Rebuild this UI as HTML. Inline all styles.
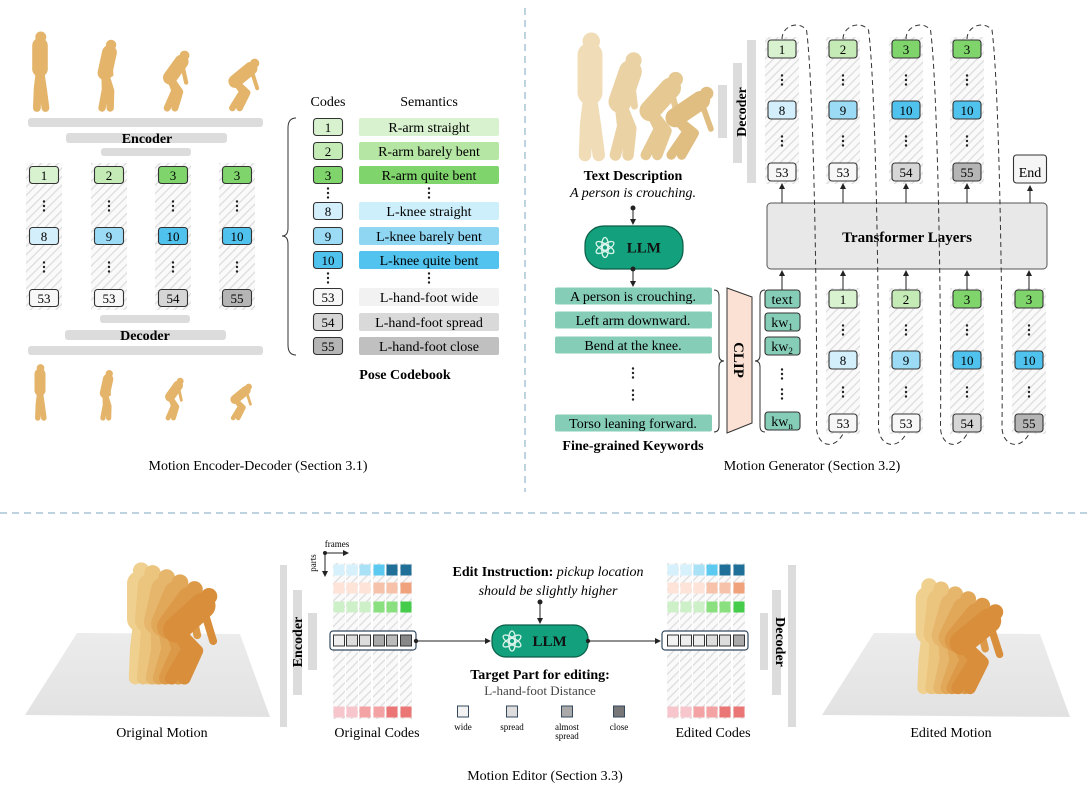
<!DOCTYPE html>
<html><head><meta charset="utf-8">
<style>
html,body{margin:0;padding:0;background:#fff;}
svg{display:block;font-family:"Liberation Serif",serif;}
</style></head>
<body>
<svg id="fig" width="1092" height="801" viewBox="0 0 1092 801" xmlns="http://www.w3.org/2000/svg">
<defs>
<pattern id="hatch" width="6" height="6" patternUnits="userSpaceOnUse" patternTransform="rotate(45)">
<rect width="6" height="6" fill="#fafafa"/><line x1="0" y1="0" x2="0" y2="6" stroke="#dcdcdc" stroke-width="2.5"/>
</pattern>
<linearGradient id="floorg" x1="0" y1="0" x2="0" y2="1"><stop offset="0" stop-color="#ececec"/><stop offset="1" stop-color="#e2e2e2"/></linearGradient>
<marker id="arr" markerWidth="6" markerHeight="6" refX="5" refY="3" orient="auto"><path d="M0,0 L6,3 L0,6 z" fill="#222"/></marker>
</defs>

<line x1="525" y1="8" x2="525" y2="492" stroke="#a9c4d6" stroke-width="1.5" stroke-dasharray="7,5"/>
<line x1="0" y1="513" x2="1092" y2="513" stroke="#a9c4d6" stroke-width="1.5" stroke-dasharray="7,5"/>

<g>
<rect x="28" y="118" width="235" height="9" rx="3" fill="#dcdcdc"/>
<rect x="66" y="133" width="161" height="10" rx="3" fill="#dcdcdc"/>
<rect x="101" y="148" width="90" height="8" rx="3" fill="#dcdcdc"/>
<text x="147" y="143" font-size="14" font-weight="bold" text-anchor="middle">Encoder</text>
</g>
<g>
<rect x="100" y="315" width="90" height="8" rx="3" fill="#dcdcdc"/>
<rect x="65" y="330" width="161" height="10" rx="3" fill="#dcdcdc"/>
<rect x="28" y="346" width="235" height="9" rx="3" fill="#dcdcdc"/>
<text x="145" y="340" font-size="14" font-weight="bold" text-anchor="middle">Decoder</text>
</g>
<path d="M296,118 Q288,118 288,128 L288,228 Q288,236 282,236 Q288,236 288,244 L288,345 Q288,355 296,355" fill="none" stroke="#333" stroke-width="1"/>
<text x="328" y="106" font-size="14" text-anchor="middle">Codes</text>
<text x="429" y="106" font-size="14" text-anchor="middle">Semantics</text>
<text x="405" y="379" font-size="14" font-weight="bold" text-anchor="middle">Pose Codebook</text>
<text x="258" y="470" font-size="14" text-anchor="middle">Motion Encoder-Decoder (Section 3.1)</text>

<text x="633" y="180" font-size="14" font-weight="bold" text-anchor="middle">Text Description</text>
<text x="633" y="197" font-size="14" font-style="italic" text-anchor="middle">A person is crouching.</text>
<g>
<rect x="718" y="85" width="9" height="53" fill="#dcdcdc"/>
<rect x="733" y="63" width="9" height="100" fill="#dcdcdc"/>
<rect x="747" y="40" width="9" height="143" fill="#dcdcdc"/>
<text transform="translate(746,112) rotate(-90)" font-size="14" font-weight="bold" text-anchor="middle">Decoder</text>
</g>
<g>
<rect x="767" y="203" width="280" height="66" rx="4" fill="#e8e8e8" stroke="#555" stroke-width="1"/>
<text x="907" y="242" font-size="15" font-weight="bold" text-anchor="middle">Transformer Layers</text>
</g>
<text x="633" y="450" font-size="14" font-weight="bold" text-anchor="middle">Fine-grained Keywords</text>
<path d="M714,290 Q719,290 719,296 L719,355 Q719,361 724,361 Q719,361 719,367 L719,426 Q719,432 714,432" fill="none" stroke="#333" stroke-width="1"/>
<g>
<polygon points="727,288 752,297 752,423 727,433" fill="#fbe1d4" stroke="#333" stroke-width="1"/>
<text transform="translate(734,360) rotate(90)" font-size="15" font-weight="bold" text-anchor="middle">CLIP</text>
</g>
<path d="M765,290 Q760,290 760,296 L760,355 Q760,361 755,361 Q760,361 760,367 L760,426 Q760,432 765,432" fill="none" stroke="#333" stroke-width="1"/>
<text x="812" y="470" font-size="14" text-anchor="middle">Motion Generator (Section 3.2)</text>

<text x="545" y="780" font-size="14" text-anchor="middle">Motion Editor (Section 3.3)</text>
<polygon points="25,715 77,633 240,634 270,717" fill="url(#floorg)"/>
<polygon points="822,715 874,633 1040,634 1070,717" fill="url(#floorg)"/>
<text x="162" y="737" font-size="14" text-anchor="middle">Original Motion</text>
<text x="951" y="737" font-size="14" text-anchor="middle">Edited Motion</text>
<g>
<rect x="280" y="565" width="7" height="162" fill="#dcdcdc"/>
<rect x="293" y="590" width="9" height="105" fill="#dcdcdc"/>
<rect x="308" y="613" width="9" height="57" fill="#dcdcdc"/>
<text transform="translate(302,642) rotate(-90)" font-size="14" font-weight="bold" text-anchor="middle">Encoder</text>
</g>
<g>
<rect x="760" y="613" width="8" height="57" fill="#dcdcdc"/>
<rect x="772" y="590" width="9" height="105" fill="#dcdcdc"/>
<rect x="788" y="565" width="8" height="162" fill="#dcdcdc"/>
<text transform="translate(776,642) rotate(90)" font-size="14" font-weight="bold" text-anchor="middle">Decoder</text>
</g>
<g>
<circle cx="325" cy="553" r="2" fill="#222"/>
<line x1="325" y1="553" x2="348" y2="553" stroke="#222" marker-end="url(#arr)"/>
<line x1="325" y1="553" x2="325" y2="576" stroke="#222" marker-end="url(#arr)"/>
<text x="337" y="547" font-size="9" text-anchor="middle">frames</text>
<text transform="translate(316,563) rotate(-90)" font-size="9" text-anchor="middle">parts</text>
</g>
<text x="548" y="576" font-size="14" text-anchor="middle"><tspan font-weight="bold">Edit Instruction:</tspan> <tspan font-style="italic">pickup location</tspan></text>
<text x="548" y="595" font-size="14" font-style="italic" text-anchor="middle">should be slightly higher</text>
<text x="540" y="679" font-size="14" font-weight="bold" text-anchor="middle">Target Part for editing:</text>
<text x="540" y="695" font-size="13" fill="#444" text-anchor="middle">L-hand-foot Distance</text>
<text x="377" y="737" font-size="14" text-anchor="middle">Original Codes</text>
<text x="713" y="737" font-size="14" text-anchor="middle">Edited Codes</text>

<g id="dyn"></g>
</svg>

<script>
const encCols = [[1,8,53],[2,9,53],[3,10,54],[3,10,55]];
const genOutCols = [[1,8,53],[2,9,53],[3,10,54],[3,10,55]];
const genInCols = [[1,8,53],[2,9,53],[3,10,54],[3,10,55]];
const codebookCodes = [1,2,3,8,9,10,53,54,55];
const codebookSemantics = ["R-arm straight","R-arm barely bent","R-arm quite bent","L-knee straight","L-knee barely bent","L-knee quite bent","L-hand-foot wide","L-hand-foot spread","L-hand-foot close"];
const keywords = ["A person is crouching.","Left arm downward.","Bend at the knee.","Torso leaning forward."];
const legendLabels = ["wide","spread","almost|spread","close"];
const gridRowsOrig = [
 ["#d6f1fb","#d6f1fb","#a9e1f6","#5ccaf0","#1f6f98","#1f6f98"],
 ["#fde3d8","#fde3d8","#fde3d8","#f7c2aa","#f7c2aa","#f0a27c"],
 ["#cdf0c8","#cdf0c8","#cdf0c8","#8ae07f","#8ae07f","#44cc4a"],
 ["#f7c6cc","#f7c6cc","#f3a3a4","#f3a3a4","#ea7676","#ea7676"]];
const codeRowOrig = ["#eeeeee","#dddddd","#dddddd","#aaaaaa","#bbbbbb","#888888"];
const codeRowEdit = ["#f2f2f2","#eeeeee","#eeeeee","#dddddd","#dddddd","#aaaaaa"];
const legendFills = ["#f2f2f2","#dddddd","#aaaaaa","#777777"];
const codeColors = {1:"#d8f2cf",2:"#c4ebb6",3:"#7fd46b",8:"#d3effb",9:"#9bdbf5",10:"#4fc2ee",53:"#f7f7f7",54:"#d6d6d6",55:"#b5b5b5"};
const semColors = {1:"#d8f2cf",2:"#b5e6a4",3:"#80d46c",8:"#cdeefb",9:"#8fd6f3",10:"#52c3ee",53:"#f2f2f2",54:"#d9d9d9",55:"#c0c0c0"};

const NS="http://www.w3.org/2000/svg";
const root=document.getElementById("dyn");
function mk(p,tag,a,t){const e=document.createElementNS(NS,tag);for(const k in a)e.setAttribute(k,a[k]);if(t!=null)e.textContent=t;p.appendChild(e);return e;}
function grp(name){const g=mk(root,"g",{});


return g;}
function codeBox(g,cx,cy,w,h,fill,label,fs){
 const b=mk(g,"g",{});
 
 
 mk(b,"rect",{x:cx-w/2,y:cy-h/2,width:w,height:h,rx:3,fill:fill,stroke:"#333","stroke-width":1.1});
 mk(b,"text",{x:cx,y:cy+h*0.28,"font-size":fs||13,"text-anchor":"middle"},label);
 return b;}
function vdots(g,x,y){for(let i=-1;i<=1;i++)mk(g,"circle",{cx:x,cy:y+i*4.5,r:1.2,fill:"#222"});}
function arrowUp(g,x,y1,y2){mk(g,"line",{x1:x,y1:y1,x2:x,y2:y2+2,stroke:"#222","stroke-width":1,"marker-end":"url(#arr)"});}
function human(g,cx,fy,h,bend,color,wf){
 wf=wf||1;
 const hip=[cx,fy-h*0.5+bend*h*0.12], sh=[cx+bend*h*0.3,fy-h*0.8+bend*h*0.25];
 const head=[sh[0]+bend*h*0.06+h*0.01,sh[1]-h*0.11+bend*h*0.04];
 const kn=[cx+bend*h*0.18,fy-h*0.25];
 const hand=[sh[0]+bend*h*0.12,sh[1]+h*0.3];
 const s={stroke:color,"stroke-linecap":"round","stroke-linejoin":"round",fill:"none"};
 mk(g,"path",Object.assign({d:`M${cx-h*0.04},${fy} L${kn[0]-h*0.03},${kn[1]} L${hip[0]},${hip[1]} L${kn[0]+h*0.04},${kn[1]+h*0.02} L${cx+h*0.07},${fy}`,"stroke-width":h*0.1*wf},s));
 mk(g,"path",Object.assign({d:`M${hip[0]},${hip[1]} L${sh[0]},${sh[1]}`,"stroke-width":h*0.2*wf},s));
 mk(g,"path",Object.assign({d:`M${sh[0]},${sh[1]} L${hand[0]},${hand[1]}`,"stroke-width":h*0.06*wf},s));
 mk(g,"circle",{cx:head[0],cy:head[1],r:h*0.07,fill:color});}

const tlFigX=[40,105,170,235], tlBend=[0,0.2,0.55,0.8];
let g=grp("input-motion-figures");
tlFigX.forEach((x,i)=>human(g,x,108,78-i*4,tlBend[i],"#e3b46a"));
g=grp("reconstructed-motion-figures");
tlFigX.forEach((x,i)=>human(g,x,418,55-i*3,tlBend[i],"#e3b46a"));

const tlX=[44,109,173,237], tlY=[175,236,298];
g=grp("encoded-code-columns");
encCols.forEach((col,i)=>{
 const c=mk(g,"rect",{x:tlX[i]-18,y:163,width:36,height:147,fill:"url(#hatch)"});
 
 
 col.forEach((v,j)=>codeBox(g,tlX[i],tlY[j],29,17,codeColors[v],String(v)));
 vdots(g,tlX[i],206);vdots(g,tlX[i],267);});

const cbY=[127,151,175,211,236,260,297,322,346];
g=grp("pose-codebook");
codebookCodes.forEach((v,i)=>{
 codeBox(g,328,cbY[i],29,17,codeColors[v],String(v));
 const r=mk(g,"rect",{x:359,y:cbY[i]-9,width:140,height:18,rx:2,fill:semColors[v]});
 
 
 mk(g,"text",{x:429,y:cbY[i]+5,"font-size":14,"text-anchor":"middle"},codebookSemantics[i]);});
vdots(g,328,193);vdots(g,429,193);vdots(g,328,278);vdots(g,429,278);

g=grp("text-description-figure");
[[590,0],[620,0.3],[650,0.65],[675,0.9]].forEach(([x,b],i)=>human(g,x,155,125-i*10,b,["#f0dcb6","#ebd2a5","#e6c893","#e0be82"][i]));

function llm(gp,x,y,w,h){
 const r=mk(gp,"rect",{x:x,y:y,width:w,height:h,rx:h/2.3,fill:"#12a17c",stroke:"#0c5e48","stroke-width":1.2});
 
 
 const cx=x+20,cy=y+h/2;
 for(let k=0;k<6;k++){mk(gp,"ellipse",{cx:cx,cy:cy-3,rx:3.2,ry:7,fill:"none",stroke:"#d9f3ea","stroke-width":1.3,transform:`rotate(${k*60} ${cx} ${cy})`});}
 mk(gp,"text",{x:x+w*0.6,y:cy+5,"font-size":15,"font-weight":"bold","text-anchor":"middle",fill:"#111"},"LLM");}
g=grp("llm-keyword-generator");
mk(g,"circle",{cx:633,cy:208,r:2.5,fill:"#222"});
mk(g,"line",{x1:633,y1:208,x2:633,y2:224,stroke:"#222","marker-end":"url(#arr)"});
llm(g,585,226,98,43);
mk(g,"circle",{cx:633,cy:269,r:2.5,fill:"#222"});
mk(g,"line",{x1:633,y1:269,x2:633,y2:286,stroke:"#222","marker-end":"url(#arr)"});

const kwY=[296,320,345,423];
g=grp("keyword-list");
keywords.forEach((k,i)=>{
 const r=mk(g,"rect",{x:555,y:kwY[i]-8.5,width:157,height:17,rx:2,fill:"#85cdb6"});
 
 
 mk(g,"text",{x:633,y:kwY[i]+5,"font-size":14,"text-anchor":"middle"},k);});
vdots(g,633,373);vdots(g,633,395);

g=grp("clip-tokens");
[["text",299],["kw1",322],["kw2",346],["kwn",421]].forEach(([t,y])=>{
 const b=mk(g,"g",{});
 
 
 mk(b,"rect",{x:765,y:y-9,width:35,height:18,rx:3,fill:"#85cdb6",stroke:"#333","stroke-width":1.1});
 const tx=mk(b,"text",{x:782,y:y+5,"font-size":14,"text-anchor":"middle"});
 if(t==="text"){tx.textContent="text";}else{tx.textContent="kw";mk(tx,"tspan",{"font-size":9,dy:3},t.slice(2));}});
vdots(g,782,374);vdots(g,782,394);
arrowUp(g,782,290,269);

const outX=[782,843,906,967], outY=[49,110,172];
const inX=[843,906,967,1029], inY=[299,360,423];
g=grp("generated-code-columns");
genOutCols.forEach((col,i)=>{
 const c=mk(g,"rect",{x:outX[i]-17,y:37,width:34,height:147,fill:"url(#hatch)"});
 
 
 col.forEach((v,j)=>codeBox(g,outX[i],outY[j],28,18,codeColors[v],String(v)));
 vdots(g,outX[i],80);vdots(g,outX[i],141);
 arrowUp(g,outX[i],203,182);});
codeBox(g,1030,169,33,28,"#f5f5f5","End",14);
arrowUp(g,1030,203,184);
g=grp("input-code-columns");
genInCols.forEach((col,i)=>{
 const c=mk(g,"rect",{x:inX[i]-17,y:288,width:34,height:146,fill:"url(#hatch)"});
 
 
 col.forEach((v,j)=>codeBox(g,inX[i],inY[j],28,18,codeColors[v],String(v)));
 vdots(g,inX[i],330);vdots(g,inX[i],392);
 arrowUp(g,inX[i],290,269);});
g=grp("autoregressive-dashed-links");
outX.forEach((x0,i)=>{
 const x1=inX[i], m=(x0+x1)/2;
 const p=mk(g,"path",{d:`M${x0},39 C${x0},26 ${m-14},20 ${m-6},30 C${m+2},90 ${m+5},350 ${m+4},425 C${m+3},445 ${x1-10},452 ${x1},434`,fill:"none",stroke:"#333","stroke-width":1,"stroke-dasharray":"5,3.5"});
 
 });

g=grp("original-motion-figure");
[[140,0,"#f0d08e"],[148,0.08,"#ebc47e"],[157,0.2,"#e6b66c"],[164,0.35,"#e2a85a"],[170,0.55,"#dc9a48"],[176,0.75,"#d98e3c"]].forEach(([x,b,c])=>human(g,x,678,118,b,c,1.1));
g=grp("edited-motion-figure");
[[928,0,"#f0d08e"],[936,0.1,"#ebc47e"],[944,0.25,"#e6b66c"],[951,0.4,"#e2a85a"],[957,0.6,"#dc9a48"],[962,0.8,"#d98e3c"]].forEach(([x,b,c])=>human(g,x,688,112,b,c,1.1));

function grid(name,cols,boxX,codeRow){
 const gg=grp(name);
 cols.forEach(x=>{const c=mk(gg,"rect",{x:x-6,y:563,width:12,height:156,fill:"url(#hatch)"});
  
  });
 const rowsY=[570,588,607,712];
 gridRowsOrig.forEach((row,r)=>row.forEach((col,c)=>{
  const e=mk(gg,"rect",{x:cols[c]-5.5,y:rowsY[r]-5.5,width:11,height:11,fill:col});
  
  }));
 const fr=mk(gg,"rect",{x:boxX,y:631,width:86,height:19,rx:3,fill:"#fff",stroke:"#34495e","stroke-width":1.2});
 
 
 codeRow.forEach((col,c)=>{
  const e=mk(gg,"rect",{x:cols[c]-5.5,y:635,width:11,height:11,fill:col,stroke:"#333","stroke-width":1});
  
  });}
grid("original-codes-grid",[339,352,365,379,392,406],330,codeRowOrig);
grid("edited-codes-grid",[673,686,699,712,725,739],662,codeRowEdit);

g=grp("editing-llm");
mk(g,"circle",{cx:540,cy:602,r:2.5,fill:"#222"});
mk(g,"line",{x1:540,y1:602,x2:540,y2:623,stroke:"#222","marker-end":"url(#arr)"});
mk(g,"circle",{cx:416,cy:641,r:2.2,fill:"#222"});
mk(g,"line",{x1:416,y1:641,x2:490,y2:641,stroke:"#222","marker-end":"url(#arr)"});
llm(g,492,625,96,32);
mk(g,"circle",{cx:588,cy:641,r:2.2,fill:"#222"});
mk(g,"line",{x1:588,y1:641,x2:660,y2:641,stroke:"#222","marker-end":"url(#arr)"});

const legX=[463,512,567,619];
g=grp("code-legend");
legendLabels.forEach((l,i)=>{
 const e=mk(g,"rect",{x:legX[i]-5.5,y:706,width:11,height:11,fill:legendFills[i],stroke:"#34495e","stroke-width":1});
 
 
 l.split("|").forEach((p,k)=>mk(g,"text",{x:legX[i],y:730+k*9,"font-size":9,"text-anchor":"middle"},p));});
</script>
</body></html>
